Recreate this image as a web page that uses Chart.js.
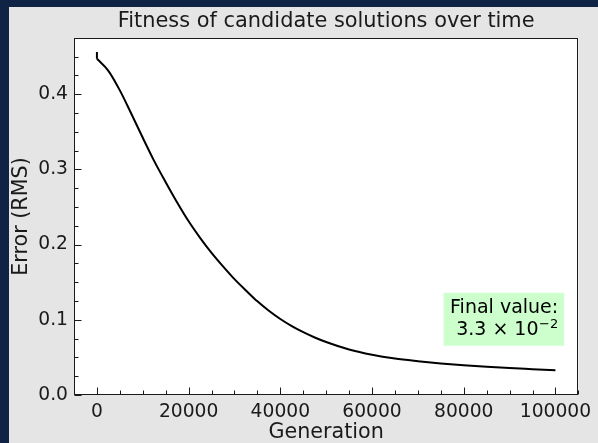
<!DOCTYPE html>
<html>
<head>
<meta charset="utf-8">
<script src="https://cdn.jsdelivr.net/npm/chart.js@4/dist/chart.umd.min.js"></script>
<style>
  html, body { margin: 0; padding: 0; background: #0f2444; }
  #frame {
    position: absolute; left: 9px; top: 7px;
    width: 589px; height: 436px; background: #e5e5e5;
  }
</style>
</head>
<body>
<div id="frame"><canvas id="fitnessChart"></canvas></div>
<script>
/* data */
const startErrors = [0.456, 0.447]; // the initial drop at generation 0
const generations = [0, 2500, 5000, 7500, 10000, 12500, 15000, 17500, 20000, 22500, 25000,
  27500, 30000, 32500, 35000, 37500, 40000, 42500, 45000, 47500, 50000, 55000, 60000,
  65000, 70000, 75000, 80000, 85000, 90000, 95000, 100000];
const errors = [0.447, 0.431, 0.405, 0.374, 0.342, 0.311, 0.283, 0.256, 0.231, 0.209, 0.189,
  0.171, 0.154, 0.139, 0.1245, 0.112, 0.101, 0.0915, 0.0835, 0.0765, 0.0705, 0.0605, 0.0535,
  0.0485, 0.045, 0.042, 0.0395, 0.0375, 0.0358, 0.0344, 0.033];
const xTicks = [0, 20000, 40000, 60000, 80000, 100000];
const yTicks = [0.0, 0.1, 0.2, 0.3, 0.4];
const finalValueText = ["Final value:", "3.3 \u00d7 10", "\u22122"];

const FONT = "'DejaVu Sans', sans-serif";
const X_MINOR = 5000;
const Y_MINOR = 0.025;

/* white plot area, inward ticks, frame and the annotation box */
const axesDecor = {
  id: "axesDecor",
  beforeDatasetsDraw(chart) {
    const { ctx, chartArea: a } = chart;
    ctx.save();
    ctx.fillStyle = "#ffffff";
    ctx.fillRect(a.left, a.top, a.right - a.left, a.bottom - a.top);
    ctx.restore();
  },
  afterDatasetsDraw(chart) {
    const { ctx, chartArea: a, scales } = chart;
    const x = scales.x, y = scales.y;
    const L = Math.round(a.left) + 0.5, R = Math.round(a.right) - 0.5;
    const T = Math.round(a.top) + 0.5, B = Math.round(a.bottom) - 0.5;
    ctx.save();
    ctx.strokeStyle = "#1a1a1a";
    ctx.lineWidth = 1;

    // x ticks
    for (let v = Math.ceil(x.min / X_MINOR) * X_MINOR; v <= x.max; v += X_MINOR) {
      const px = Math.round(x.getPixelForValue(v)) + 0.5;
      const len = xTicks.includes(v) ? 7 : 4;
      ctx.beginPath();
      ctx.moveTo(px, B);
      ctx.lineTo(px, B - len);
      ctx.stroke();
    }
    // y ticks
    for (let i = 0; i * Y_MINOR <= y.max + 1e-9; i++) {
      const v = i * Y_MINOR;
      const py = Math.round(y.getPixelForValue(v)) + 0.5;
      const len = i % 4 === 0 ? 7 : 4;
      ctx.beginPath();
      ctx.moveTo(L, py);
      ctx.lineTo(L + len, py);
      ctx.stroke();
    }
    ctx.strokeRect(L, T, R - L, B - T);

    // annotation box
    const w = a.right - a.left, h = a.bottom - a.top;
    const tx = a.left + 0.96 * w;
    const base2 = a.bottom - 0.168 * h;
    const base1 = base2 - 21.7;
    ctx.font = "19px " + FONT;
    const w1 = ctx.measureText(finalValueText[0]).width;
    ctx.fillStyle = "#ccffcc";
    ctx.fillRect(tx - w1 - 6.5, base1 - 20.5, w1 + 12.5, (base2 + 10.7) - (base1 - 20.5));

    ctx.fillStyle = "#000000";
    ctx.textAlign = "right";
    ctx.textBaseline = "alphabetic";
    ctx.fillText(finalValueText[0], tx, base1);
    ctx.font = "13px " + FONT;
    const wSup = ctx.measureText(finalValueText[2]).width;
    ctx.fillText(finalValueText[2], tx, base2 - 7.5);
    ctx.font = "19px " + FONT;
    ctx.fillText(finalValueText[1], tx - wSup - 0.5, base2);
    ctx.restore();
  },
};

document.addEventListener("DOMContentLoaded", () => {
  const ctx = document.getElementById("fitnessChart");

  new Chart(ctx, {
    type: "line",
    data: {
      datasets: [
        {
          label: "Start",
          data: startErrors.map((e) => ({ x: 0, y: e })),
          borderColor: "#000000",
          borderWidth: 2,
          pointRadius: 0,
          tension: 0,
          fill: false,
        },
        {
          label: "Error",
          data: generations.map((g, i) => ({ x: g, y: errors[i] })),
          borderColor: "#000000",
          borderWidth: 2,
          borderJoinStyle: "round",
          pointRadius: 0,
          fill: false,
          cubicInterpolationMode: "monotone",
        },
      ],
    },
    options: {
      responsive: true,
      maintainAspectRatio: false,
      animation: false,
      layout: { padding: { left: 0, right: 13, top: 0, bottom: 0 } },
      plugins: {
        legend: { display: false },
        tooltip: { enabled: false },
        title: {
          display: true,
          fullSize: false,
          text: "Fitness of candidate solutions over time",
          color: "#1a1a1a",
          font: { family: FONT, size: 20.9, weight: "normal", lineHeight: 1.2 },
          padding: { top: 2, bottom: 3.9 },
        },
      },
      scales: {
        x: {
          type: "linear",
          min: -5000,
          max: 105000,
          afterFit: (scale) => { scale.height = 48; },
          afterBuildTicks: (scale) => { scale.ticks = xTicks.map((v) => ({ value: v })); },
          grid: { display: false, drawTicks: false },
          border: { display: false },
          ticks: {
            color: "#1a1a1a",
            padding: 6,
            maxRotation: 0,
            font: { family: FONT, size: 18.7 },
            callback: (v) => String(v),
          },
          title: {
            display: true,
            text: "Generation",
            color: "#1a1a1a",
            font: { family: FONT, size: 20.7, lineHeight: 1 },
            padding: { top: 0, bottom: 0 },
          },
        },
        y: {
          min: 0,
          max: 0.4747,
          afterFit: (scale) => { scale.width = 65; },
          afterBuildTicks: (scale) => { scale.ticks = yTicks.map((v) => ({ value: v })); },
          grid: { display: false, drawTicks: false },
          border: { display: false },
          ticks: {
            color: "#1a1a1a",
            padding: 6,
            font: { family: FONT, size: 18.7 },
            callback: (v) => v.toFixed(1),
          },
          title: {
            display: true,
            text: "Error (RMS)",
            color: "#1a1a1a",
            font: { family: FONT, size: 20.7, lineHeight: 1 },
            padding: { top: 2, bottom: 0 },
          },
        },
      },
    },
    plugins: [axesDecor],
  });
});
</script>
</body>
</html>
